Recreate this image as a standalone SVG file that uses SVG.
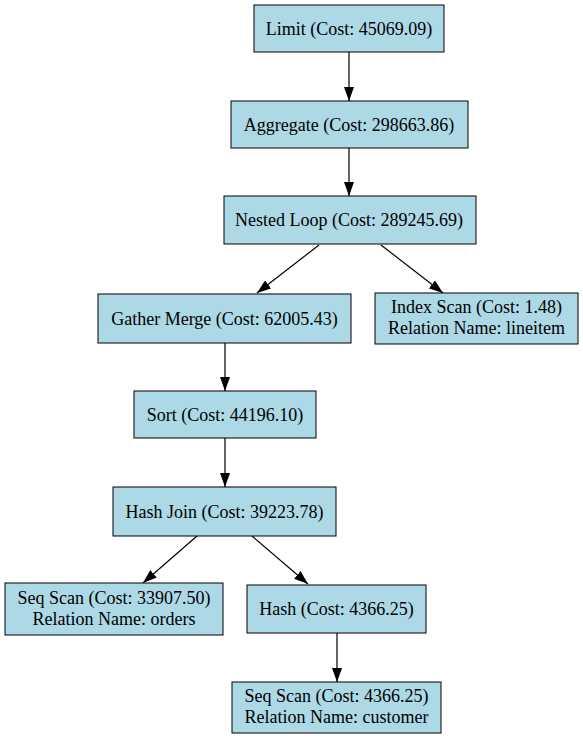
<svg xmlns="http://www.w3.org/2000/svg" width="583" height="739" viewBox="0 0 583 739">
<style>
.n rect{fill:#add8e6;stroke:#000;stroke-width:1}
.n text{font-family:"Liberation Serif","Times New Roman",serif;font-size:18px;fill:#000;text-anchor:middle}
.e line{stroke:#000;stroke-width:1.2;marker-end:url(#ah)}
</style>
<defs>
<marker id="ah" markerWidth="14" markerHeight="10" refX="14" refY="5" orient="auto" markerUnits="userSpaceOnUse">
<path d="M0,0 L14,5 L0,10 Z" fill="#000"/>
</marker>
</defs>
<rect width="583" height="739" fill="#fff"/>
<g id="edges" class="e">
<line x1="349" y1="52" x2="349" y2="101"/>
<line x1="349" y1="148" x2="349" y2="196"/>
<line x1="319" y1="245" x2="257" y2="293"/>
<line x1="381" y1="245" x2="443" y2="293"/>
<line x1="225" y1="343" x2="225" y2="391"/>
<line x1="225" y1="438" x2="225" y2="487"/>
<line x1="197" y1="536" x2="143" y2="583"/>
<line x1="252" y1="536" x2="308" y2="584"/>
<line x1="337" y1="633" x2="337" y2="682"/>
</g>
<g id="limit" class="n"><rect x="254" y="5" width="190" height="47"/><text x="349" y="35">Limit (Cost: 45069.09)</text></g>
<g id="aggregate" class="n"><rect x="231" y="101" width="237" height="47"/><text x="349" y="131">Aggregate (Cost: 298663.86)</text></g>
<g id="nestedloop" class="n"><rect x="224" y="196" width="252" height="48"/><text x="349" y="226">Nested Loop (Cost: 289245.69)</text></g>
<g id="gathermerge" class="n"><rect x="98" y="294" width="253" height="49"/><text x="224.5" y="325">Gather Merge (Cost: 62005.43)</text></g>
<g id="indexscan" class="n"><rect x="375" y="293" width="203" height="51"/><text x="476.5" y="313">Index Scan (Cost: 1.48)</text><text x="476.5" y="334">Relation Name: lineitem</text></g>
<g id="sort" class="n"><rect x="134" y="391" width="182" height="47"/><text x="225" y="421">Sort (Cost: 44196.10)</text></g>
<g id="hashjoin" class="n"><rect x="113" y="487" width="223" height="49"/><text x="224.5" y="518">Hash Join (Cost: 39223.78)</text></g>
<g id="seqscanorders" class="n"><rect x="5" y="583" width="218" height="52"/><text x="114" y="604">Seq Scan (Cost: 33907.50)</text><text x="114" y="625">Relation Name: orders</text></g>
<g id="hash" class="n"><rect x="247" y="585" width="179" height="48"/><text x="336.5" y="615">Hash (Cost: 4366.25)</text></g>
<g id="seqscancustomer" class="n"><rect x="232" y="682" width="209" height="51"/><text x="336.5" y="702">Seq Scan (Cost: 4366.25)</text><text x="336.5" y="723">Relation Name: customer</text></g>
</svg>
